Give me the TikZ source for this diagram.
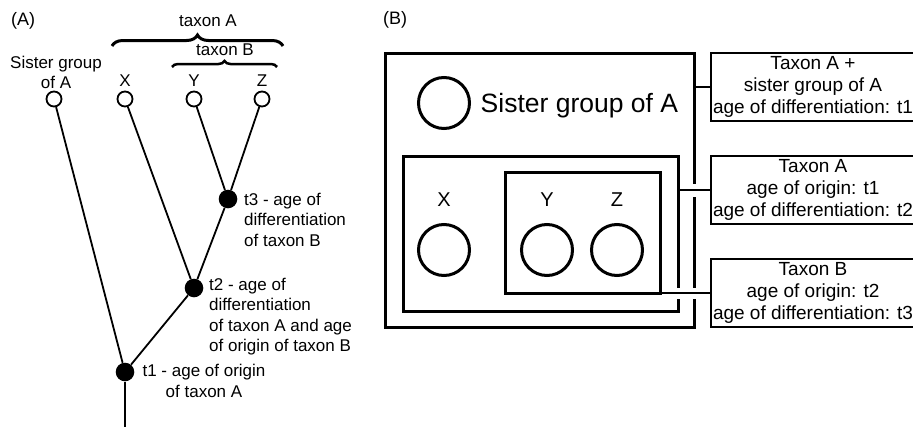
\documentclass[tikz,border=0pt]{standalone}
\usepackage{fontspec}
\setmainfont{Liberation Sans}
\usetikzlibrary{decorations.pathreplacing,calc}
\begin{document}
\begin{tikzpicture}[x=1pt,y=-1pt,
  smalltext/.style={font=\fontsize{17}{20.5}\selectfont, inner sep=0pt},
  paneltext/.style={font=\fontsize{18}{21}\selectfont, inner sep=0pt},
  leaf/.style={circle, draw, line width=1.8pt, minimum size=15pt, inner sep=0pt},
  dotnode/.style={circle, fill, minimum size=18.6pt, inner sep=0pt},
  treeline/.style={line width=1.8pt},
  bbox/.style={draw, line width=3pt, inner sep=0pt, outer sep=0pt},
  bigcirc/.style={circle, draw, line width=3pt, minimum size=51pt, inner sep=0pt},
  infobox/.style={draw, line width=1.6pt, minimum width=204pt, minimum height=68pt, align=center, font=\fontsize{19}{22}\selectfont, inner sep=0pt, outer sep=0pt},
  conn/.style={line width=1.6pt},
  gapfill/.style={fill=white},
  bracestyle/.style={decorate, decoration={brace, amplitude=#1}},
]
\useasboundingbox (0,0) rectangle (913,426);

% ---------- Panel A ----------
\node[paneltext, anchor=base west] (labA) at (11,25) {(A)};
\node[paneltext, anchor=base west] (labB) at (383,24) {(B)};

\node[smalltext, align=center, anchor=north] (sislab) at (56,55.6) {Sister group\\of A};
\node[smalltext, anchor=base] (xlab) at (125,86.5) {X};
\node[smalltext, anchor=base] (ylab) at (194,86.5) {Y};
\node[smalltext, anchor=base] (zlab) at (262,86.5) {Z};

\coordinate (bAl) at (112,46);
\coordinate (bAr) at (283,46);
\coordinate (bBl) at (172,67);
\coordinate (bBr) at (277,67);
\draw[bracestyle=11pt, line width=3pt] (bAl) -- (bAr);
\draw[bracestyle=6pt, line width=2.5pt] (bBl) -- (bBr);
\node[smalltext, anchor=base] (taxA) at (208,26.5) {taxon A};
\node[smalltext, anchor=base] (taxB) at (225,55) {taxon B};

\node[leaf] (ls) at (54,99) {};
\node[leaf] (lx) at (125,99) {};
\node[leaf] (ly) at (194,99) {};
\node[leaf] (lz) at (262,99) {};

\node[dotnode] (t1) at (125,372) {};
\node[dotnode] (t2) at (194,288) {};
\node[dotnode] (t3) at (228,199) {};
\coordinate (root) at (125,432);

\draw[treeline] (ls) -- (t1);
\draw[treeline] (lx) -- (t2);
\draw[treeline] (ly) -- (t3);
\draw[treeline] (lz) -- (t3);
\draw[treeline] (t3) -- (t2);
\draw[treeline] (t2) -- (t1);
\draw[treeline] (t1) -- (root);

\node[smalltext, align=left, anchor=north west] (t3lab) at (244,192.6) {t3 - age of\\differentiation\\of taxon B};
\node[smalltext, align=left, anchor=north west] (t2lab) at (209,277.6) {t2 - age of\\differentiation\\of taxon A and age\\of origin of taxon B};
\node[smalltext, align=center, anchor=north] (t1lab) at (204,364.3) {t1 - age of origin\\of taxon A};

% ---------- Panel B ----------
\node[bbox, minimum width=309pt, minimum height=274pt] (outer) at (539.5,190) {};
\node[bbox, minimum width=275pt, minimum height=155pt] (middle) at (540.5,233.5) {};
\node[bbox, minimum width=155pt, minimum height=121pt] (inner) at (582.5,232.5) {};

\node[bigcirc] (sisB) at (444,103) {};
\node[font=\fontsize{26.5}{30}\selectfont, anchor=base west, inner sep=0pt] (sisBlab) at (480.5,112.7) {Sister group of A};
\node[bigcirc] (xB) at (444,250) {};
\node[bigcirc] (yB) at (547,250) {};
\node[bigcirc] (zB) at (617,250) {};
\node[font=\fontsize{20}{24}\selectfont, anchor=base, inner sep=0pt] (xBlab) at (444,206.7) {X};
\node[font=\fontsize{20}{24}\selectfont, anchor=base, inner sep=0pt] (yBlab) at (547,206.7) {Y};
\node[font=\fontsize{20}{24}\selectfont, anchor=base, inner sep=0pt] (zBlab) at (617,206.7) {Z};

\node[infobox] (box1) at (813,87) {Taxon A +\\sister group of A\\age of differentiation: t1};
\node[infobox] (box2) at (813,190) {Taxon A\\age of origin: t1\\age of differentiation: t2};
\node[infobox] (box3) at (813,293) {Taxon B\\age of origin: t2\\age of differentiation: t3};

\fill[gapfill] ($(outer.east |- box2.west)+(-3.5,-6.5)$) rectangle ($(outer.east |- box2.west)+(3.5,6.5)$);
\fill[gapfill] ($(outer.east |- box3.west)+(-3.5,-5.5)$) rectangle ($(outer.east |- box3.west)+(3.5,5.5)$);
\fill[gapfill] ($(middle.east |- box3.west)+(-3.5,-5.5)$) rectangle ($(middle.east |- box3.west)+(3.5,5.5)$);

\draw[conn] (outer.east |- box1.west) -- (box1.west);
\draw[conn] (middle.east |- box2.west) -- (box2.west);
\draw[conn] (inner.south east) -- (box3.west);
\end{tikzpicture}
\end{document}
